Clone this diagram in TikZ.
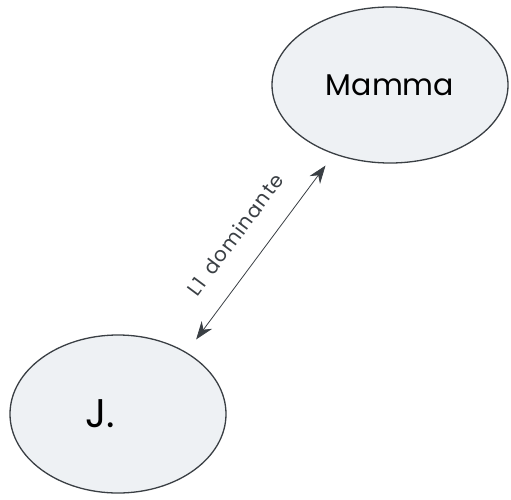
\documentclass[tikz,border=0pt]{standalone}
\usepackage{fontspec}
\setmainfont{Poppins}
\usetikzlibrary{shapes.geometric,arrows.meta}
\definecolor{ovalfill}{HTML}{EEF1F4}
\definecolor{inkgray}{HTML}{3A3F44}
\tikzset{oval/.style={ellipse, draw=inkgray, line width=1.3pt, fill=ovalfill, inner sep=0pt}}
\begin{document}
\begin{tikzpicture}[x=1pt, y=-1pt, line join=round, line cap=round, >={Stealth[length=18pt,width=13pt]}]
\useasboundingbox (0,0) rectangle (511,500);
\node[oval, minimum width=236pt, minimum height=156pt, font=\fontsize{30}{30}\selectfont] (mamma) at (390,85) {Mamma};
\node[oval, minimum width=216pt, minimum height=158pt, font=\fontsize{40}{40}\selectfont] (j) at (118,414) {J.\hspace*{36pt}};
\draw[<->, inkgray, line width=0.8pt, shorten <=16pt, shorten >=14pt] (j.42) -- (mamma.231) node[midway, sloped, above=20pt, font=\fontsize{20}{20}\selectfont\addfontfeatures{LetterSpace=6}] {L1\hspace{0.5em}dominante};
\end{tikzpicture}
\end{document}
